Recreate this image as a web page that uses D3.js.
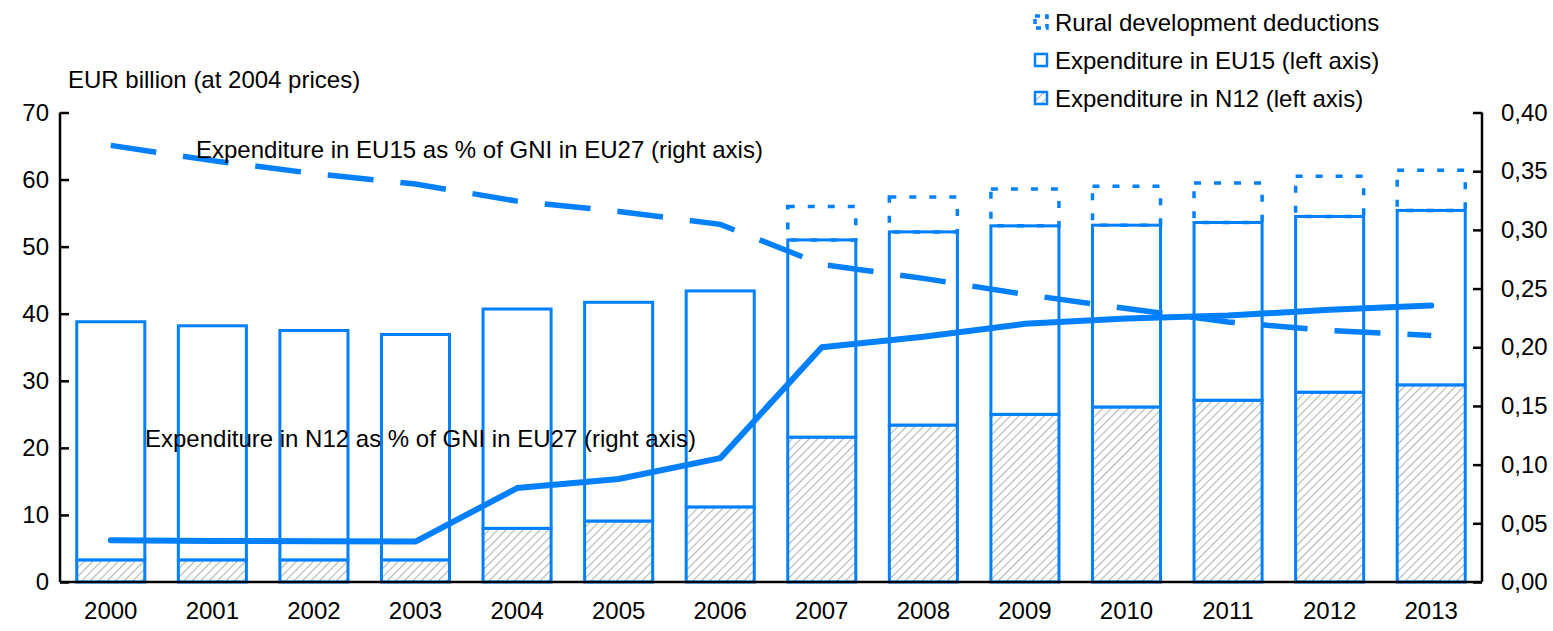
<!DOCTYPE html>
<html>
<head>
<meta charset="utf-8">
<script src="https://cdn.jsdelivr.net/npm/d3@7"></script>
<style>
  body { margin: 0; background: #fff; }
  text { font-family: "Liberation Sans", Arial, sans-serif; fill: #000; }
</style>
</head>
<body>
<script>
// Datos del gráfico
const years = ["2000","2001","2002","2003","2004","2005","2006","2007","2008","2009","2010","2011","2012","2013"]
// gasto en N12 (parte rayada), EUR bn
const n12 = [3.3, 3.3, 3.3, 3.3, 8.0, 9.1, 11.2, 21.6, 23.4, 25.0, 26.1, 27.1, 28.3, 29.4]
// gasto en EU15 (parte blanca, encima de N12)
const eu15 = [35.5, 34.9, 34.2, 33.6, 32.7, 32.6, 32.2, 29.4, 28.8, 28.1, 27.1, 26.5, 26.2, 26.0]
// deducciones desarrollo rural
const rural = [0, 0, 0, 0, 0, 0, 0, 5.0, 5.2, 5.5, 5.8, 5.9, 6.0, 6.0]
// % del PNB (eje derecho)
const pctEU15 = [0.372, 0.359, 0.348, 0.339, 0.3245, 0.3157, 0.3047, 0.2706, 0.2587, 0.245, 0.233, 0.2215, 0.2142, 0.210]
const pctN12 = [0.0355, 0.035, 0.0347, 0.0344, 0.080, 0.0877, 0.1055, 0.200, 0.209, 0.220, 0.2245, 0.227, 0.232, 0.2355]
const leftTicks = [0, 10, 20, 30, 40, 50, 60, 70]
const rightTicks = [0, 0.05, 0.10, 0.15, 0.20, 0.25, 0.30, 0.35, 0.40]

const blue = "#0080ff"
const W = 1553, H = 631
const m = {left: 60, right: 1482, top: 112.5, bottom: 582}
const fs = "24px"

let svg = d3.select("body").append("svg")
    .attr("width", W)
    .attr("height", H)

// patrón rayado
let defs = svg.append("defs")
let pat = defs.append("pattern")
    .attr("id", "hatch")
    .attr("patternUnits", "userSpaceOnUse")
    .attr("width", 6)
    .attr("height", 6)
    .attr("patternTransform", "rotate(45)")
pat.append("rect").attr("width", 6).attr("height", 6).attr("fill", "#fff")
pat.append("line")
    .attr("x1", 0).attr("y1", 0).attr("x2", 0).attr("y2", 6)
    .attr("stroke", "#b4b4b4").attr("stroke-width", 2.2)

// Escalas
let x = d3.scaleBand().domain(years).range([m.left, m.right]).paddingInner(0.33).paddingOuter(0.165)
let yL = d3.scaleLinear().domain([0, 70]).range([m.bottom, m.top])
let yR = d3.scaleLinear().domain([0, 0.40]).range([m.bottom, m.top])
let cx = d => x(d) + x.bandwidth() / 2

// Barras
let bars = svg.append("g").selectAll("g")
    .data(years)
    .join("g")

bars.append("rect")
    .attr("x", d => x(d))
    .attr("width", x.bandwidth())
    .attr("y", (d, i) => yL(n12[i]))
    .attr("height", (d, i) => yL(0) - yL(n12[i]))
    .attr("fill", "url(#hatch)")
    .attr("stroke", blue)
    .attr("stroke-width", 3)

bars.append("rect")
    .attr("x", d => x(d))
    .attr("width", x.bandwidth())
    .attr("y", (d, i) => yL(n12[i] + eu15[i]))
    .attr("height", (d, i) => yL(n12[i]) - yL(n12[i] + eu15[i]))
    .attr("fill", "#fff")
    .attr("stroke", blue)
    .attr("stroke-width", 3)

bars.filter((d, i) => rural[i] > 0)
    .append("rect")
    .attr("x", d => x(d))
    .attr("width", x.bandwidth())
    .attr("y", d => { let i = years.indexOf(d); return yL(n12[i] + eu15[i] + rural[i]) })
    .attr("height", d => { let i = years.indexOf(d); return yL(n12[i] + eu15[i]) - yL(n12[i] + eu15[i] + rural[i]) })
    .attr("fill", "none")
    .attr("stroke", blue)
    .attr("stroke-width", 3.5)
    .attr("stroke-dasharray", "7,13")

// Líneas
let line = d3.line().x(d => cx(d[0])).y(d => yR(d[1]))

svg.append("path")
    .attr("d", line(years.map((y, i) => [y, pctEU15[i]])))
    .attr("fill", "none")
    .attr("stroke", blue)
    .attr("stroke-width", 5.5)
    .attr("stroke-dasharray", "46,27")

svg.append("path")
    .attr("d", line(years.map((y, i) => [y, pctN12[i]])))
    .attr("fill", "none")
    .attr("stroke", blue)
    .attr("stroke-width", 6)
    .attr("stroke-linecap", "round")
    .attr("stroke-linejoin", "round")

// Ejes
let axL = svg.append("g")
    .attr("transform", `translate(${m.left},0)`)
    .call(d3.axisRight(yL).tickValues(leftTicks).tickSize(9).tickFormat(d3.format("d")))
axL.select(".domain").attr("stroke", "#000").attr("stroke-width", 2.5).attr("d", `M0,${m.top}V${m.bottom}`)
axL.selectAll(".tick line").attr("stroke", "#000").attr("stroke-width", 2.5)
axL.selectAll(".tick text")
    .attr("x", -11).attr("text-anchor", "end")
    .style("font-size", fs)

let axR = svg.append("g")
    .attr("transform", `translate(${m.right},0)`)
    .call(d3.axisLeft(yR).tickValues(rightTicks).tickSize(9).tickFormat(d => d3.format(".2f")(d).replace(".", ",")))
axR.select(".domain").attr("stroke", "#000").attr("stroke-width", 2.5).attr("d", `M0,${m.top}V${m.bottom}`)
axR.selectAll(".tick line").attr("stroke", "#000").attr("stroke-width", 2.5)
axR.selectAll(".tick text")
    .attr("x", 19).attr("text-anchor", "start")
    .style("font-size", fs)

svg.append("line")
    .attr("x1", m.left).attr("x2", m.right)
    .attr("y1", m.bottom).attr("y2", m.bottom)
    .attr("stroke", "#000").attr("stroke-width", 2.5)

svg.append("g").selectAll("text")
    .data(years)
    .join("text")
    .attr("x", d => cx(d))
    .attr("y", 619)
    .attr("text-anchor", "middle")
    .style("font-size", fs)
    .text(d => d)

// Títulos y etiquetas
svg.append("text").attr("x", 68).attr("y", 88).style("font-size", fs).text("EUR billion (at 2004 prices)")
svg.append("text").attr("x", 196).attr("y", 158).style("font-size", fs).text("Expenditure in EU15 as % of GNI in EU27 (right axis)")
svg.append("text").attr("x", 145).attr("y", 447).style("font-size", fs).text("Expenditure in N12 as % of GNI in EU27 (right axis)")

// Leyenda
let legend = [
    {label: "Rural development deductions", type: "dash"},
    {label: "Expenditure in EU15 (left axis)", type: "solid"},
    {label: "Expenditure in N12 (left axis)", type: "hatch"}
]
let lg = svg.append("g").selectAll("g")
    .data(legend)
    .join("g")
    .attr("transform", (d, i) => `translate(1035,${16 + i * 38})`)

lg.append("rect")
    .attr("width", 12).attr("height", 12)
    .attr("fill", d => d.type == "hatch" ? "url(#hatch)" : "#fff")
    .attr("stroke", blue)
    .attr("stroke-width", d => d.type == "dash" ? 3.5 : 2.5)
    .attr("stroke-dasharray", d => d.type == "dash" ? "5,5" : null)

lg.append("text")
    .attr("x", 20).attr("y", 15)
    .style("font-size", fs)
    .text(d => d.label)
</script>
</body>
</html>
